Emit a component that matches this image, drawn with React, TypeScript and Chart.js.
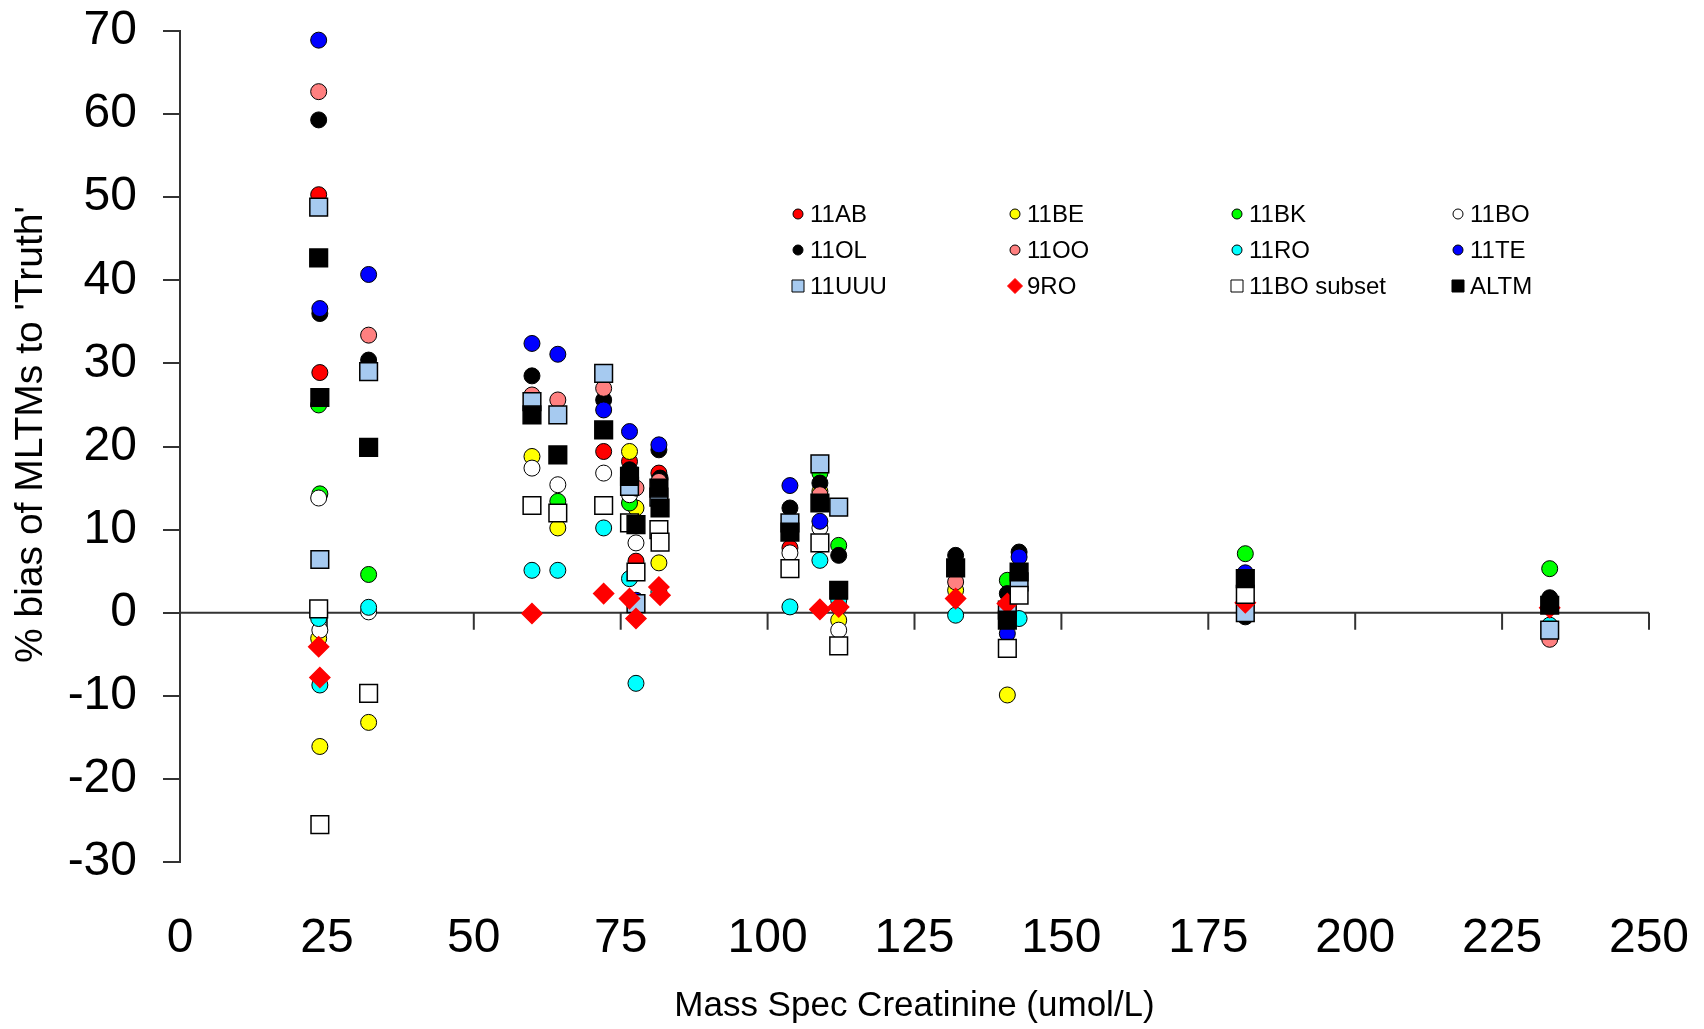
import React, { useEffect, useRef } from "react";
import { Chart, registerables } from "chart.js";

Chart.register(...registerables);

// Creatinine (x) for each sample
const creatinine = [23.6, 23.8, 32.1, 59.9, 64.3, 72.1, 76.5, 77.6, 81.5, 81.7, 103.8, 108.9, 112.1, 132.0, 140.8, 142.8, 181.3, 233.1];

// % bias per series, aligned with creatinine (null = no point)
const v11AB = [50.3, 28.9, null, null, null, 19.4, 18.2, 6.2, 16.8, null, 7.8, null, 0.7, null, null, null, null, null];
const v11BE = [-3.1, -16.1, -13.2, 18.8, 10.2, null, 19.4, 12.6, 6.0, null, null, 14.6, -0.9, 2.7, -9.9, null, null, null];
const v11BK = [25.0, 14.3, 4.6, null, 13.4, null, 13.2, null, null, null, null, 16.8, 8.1, null, 3.9, null, 7.1, 5.3];
const v11BO = [13.8, -2.1, 0.1, 17.4, 15.4, 16.8, 14.2, 8.4, null, null, 7.2, 10.2, -2.1, null, null, null, null, null];
const v11OL = [59.3, 36.0, 30.4, 28.5, null, 25.6, 17.2, null, 19.6, 16.2, 12.6, 15.6, 6.9, 6.9, 2.3, 7.3, -0.5, 1.8];
const v11OO = [62.7, null, 33.4, 26.2, 25.6, 27.0, null, 15.0, 15.8, null, null, 14.2, null, 3.7, null, null, null, -3.2];
const v11RO = [-0.7, -8.7, 0.65, 5.1, 5.1, 10.2, 4.1, -8.5, 2.5, null, 0.7, 6.3, 1.5, -0.3, null, -0.7, null, -1.5];
const v11TE = [68.9, 36.6, 40.7, 32.4, 31.1, 24.4, 21.8, 1.5, 20.2, null, 15.3, 11.0, null, null, -2.5, 6.7, 4.8, null];
const v11UUU = [48.8, 6.4, 29.0, 25.4, 23.8, 28.8, 15.2, 1.1, 13.9, null, 10.8, 17.9, 12.7, null, 0.3, 3.7, 0.0, -2.1];
const v9RO = [-4.1, -7.8, null, -0.1, null, 2.3, 1.7, -0.7, 3.1, 2.1, null, 0.4, 0.7, 1.7, 1.1, null, 1.2, 0.6];
const v11BOsubset = [0.45, -25.5, -9.7, 12.9, 12.0, 12.9, 10.8, 4.9, 10.0, 8.5, 5.3, 8.4, -4.0, null, -4.3, 2.1, 2.2, null];
const vALTM = [42.7, 25.9, 19.9, 23.8, 19.0, 22.0, 16.4, 10.6, 15.0, 12.6, 9.7, 13.2, 2.7, 5.4, -0.9, 4.9, 4.1, 0.9];

const seriesNames = ["11AB", "11BE", "11BK", "11BO", "11OL", "11OO", "11RO", "11TE", "11UUU", "9RO", "11BO subset", "ALTM"];
const seriesValues = [v11AB, v11BE, v11BK, v11BO, v11OL, v11OO, v11RO, v11TE, v11UUU, v9RO, v11BOsubset, vALTM];

const xTitle = "Mass Spec Creatinine (umol/L)";
const yTitle = "% bias of MLTMs to 'Truth'";

// Styles (kept separate from data)
type Shape = "circle" | "rect" | "rectRot";
const seriesShapes: Shape[] = ["circle", "circle", "circle", "circle", "circle", "circle", "circle", "circle", "rect", "rectRot", "rect", "rect"];
const seriesFills = ["#FF0000", "#FFFF00", "#00FF00", "#FFFFFF", "#000000", "#FF8080", "#00FFFF", "#0000FF", "#A6CAF0", "#FF0000", "#FFFFFF", "#000000"];
const seriesStrokes = ["#000", "#000", "#000", "#000", "#000", "#000", "#000", "#000", "#000", "#FF0000", "#000", "#000"];
const markerRadius: Record<Shape, number> = { circle: 8, rect: 12.5, rectRot: 10 };
const legendRadius: Record<Shape, number> = { circle: 5, rect: 8.5, rectRot: 7.5 };

const FONT = '"Liberation Sans", Arial, sans-serif';
const legendColX = [798, 1015, 1237, 1458];
const legendRowY = [214, 250, 286];

function drawMarker(ctx: CanvasRenderingContext2D, shape: Shape, fill: string, stroke: string, x: number, y: number, r: number) {
  ctx.beginPath();
  if (shape === "circle") {
    ctx.arc(x, y, r, 0, Math.PI * 2);
  } else if (shape === "rect") {
    const s = r * Math.SQRT1_2;
    ctx.rect(x - s, y - s, 2 * s, 2 * s);
  } else {
    ctx.moveTo(x - r, y);
    ctx.lineTo(x, y - r);
    ctx.lineTo(x + r, y);
    ctx.lineTo(x, y + r);
    ctx.closePath();
  }
  ctx.fillStyle = fill;
  ctx.fill();
  ctx.strokeStyle = stroke;
  ctx.lineWidth = 1;
  ctx.stroke();
}

const zeroAxisPlugin = {
  id: "zeroAxis",
  beforeDatasetsDraw(chart: any) {
    const { ctx, chartArea, scales } = chart;
    const y0 = scales.y.getPixelForValue(0);
    ctx.save();
    ctx.strokeStyle = "#333";
    ctx.lineWidth = 2;
    ctx.beginPath();
    ctx.moveTo(chartArea.left, y0);
    ctx.lineTo(chartArea.right, y0);
    scales.x.ticks.forEach((t: any) => {
      if (t.value === 0) return;
      const px = scales.x.getPixelForValue(t.value);
      ctx.moveTo(px, y0);
      ctx.lineTo(px, y0 + 17);
    });
    ctx.stroke();
    ctx.restore();
  },
};

const yTitlePlugin = {
  id: "yTitle",
  afterDraw(chart: any) {
    const ctx: CanvasRenderingContext2D = chart.ctx;
    const { chartArea } = chart;
    ctx.save();
    ctx.translate(31, (chartArea.top + chartArea.bottom) / 2 - 12);
    ctx.rotate(-Math.PI / 2);
    ctx.font = `39px ${FONT}`;
    ctx.fillStyle = "#000";
    ctx.textAlign = "center";
    ctx.textBaseline = "middle";
    ctx.fillText(yTitle, 0, 0);
    ctx.restore();
  },
};

const gridLegendPlugin = {
  id: "gridLegend",
  afterDraw(chart: any) {
    const ctx: CanvasRenderingContext2D = chart.ctx;
    ctx.save();
    seriesNames.forEach((name, i) => {
      const col = i % 4;
      const row = Math.floor(i / 4);
      const mx = legendColX[col];
      const my = legendRowY[row];
      const shape = seriesShapes[i];
      drawMarker(ctx, shape, seriesFills[i], seriesStrokes[i], mx, my, legendRadius[shape]);
      ctx.font = `24px ${FONT}`;
      ctx.fillStyle = "#000";
      ctx.textBaseline = "middle";
      ctx.textAlign = "left";
      ctx.fillText(name, mx + 12, my + 1);
    });
    ctx.restore();
  },
};

export default function App() {
  const ref = useRef<HTMLCanvasElement>(null);
  useEffect(() => {
    const canvas = ref.current!;
    Chart.defaults.font.family = FONT;
    const datasets = seriesNames.map((name, i) => {
      const shape = seriesShapes[i];
      const pts = creatinine
        .map((x, j) => ({ x, y: seriesValues[i][j] as number | null }))
        .filter((p) => p.y !== null);
      return {
        label: name,
        data: pts,
        pointStyle: shape,
        pointRadius: markerRadius[shape],
        pointHoverRadius: markerRadius[shape],
        pointBackgroundColor: seriesFills[i],
        pointBorderColor: seriesStrokes[i],
        pointBorderWidth: shape === "circle" ? 1 : 1.5,
        showLine: false,
        order: seriesNames.length - 1 - i,
      };
    });
    const chart = new Chart(canvas, {
      type: "scatter",
      data: { datasets } as any,
      options: {
        animation: false,
        responsive: false,
        devicePixelRatio: 1,
        events: [],
        layout: { padding: { top: 31, right: 55, left: 0, bottom: 0 } },
        plugins: { legend: { display: false }, tooltip: { enabled: false } },
        scales: {
          x: {
            type: "linear",
            min: 0,
            max: 250,
            ticks: { stepSize: 25, font: { size: 48 }, color: "#000", padding: 48, maxRotation: 0 },
            grid: { display: false, drawTicks: false },
            border: { display: false },
            title: {
              display: true,
              text: xTitle,
              font: { size: 35 },
              color: "#000",
              padding: { top: 0, bottom: 2 },
            },
            afterFit: (s: any) => {
              s.height = 167;
              s.paddingLeft = 0;
              s.paddingRight = 0;
            },
          },
          y: {
            type: "linear",
            min: -30,
            max: 70,
            ticks: { stepSize: 10, font: { size: 48 }, color: "#000", padding: 26 },
            grid: { drawOnChartArea: false, drawTicks: true, tickLength: 17, tickColor: "#333", lineWidth: 2 },
            border: { display: true, color: "#333", width: 2 },
            title: { display: false },
            afterFit: (s: any) => {
              s.width = 180;
              s.paddingTop = 0;
              s.paddingBottom = 0;
            },
          },
        },
      } as any,
      plugins: [zeroAxisPlugin, gridLegendPlugin, yTitlePlugin],
    });
    return () => chart.destroy();
  }, []);
  return (
    <div style={{ position: "fixed", left: 0, top: 0, width: 1704, height: 1029, background: "#fff" }}>
      <canvas ref={ref} width={1704} height={1029} style={{ display: "block" }} />
    </div>
  );
}
